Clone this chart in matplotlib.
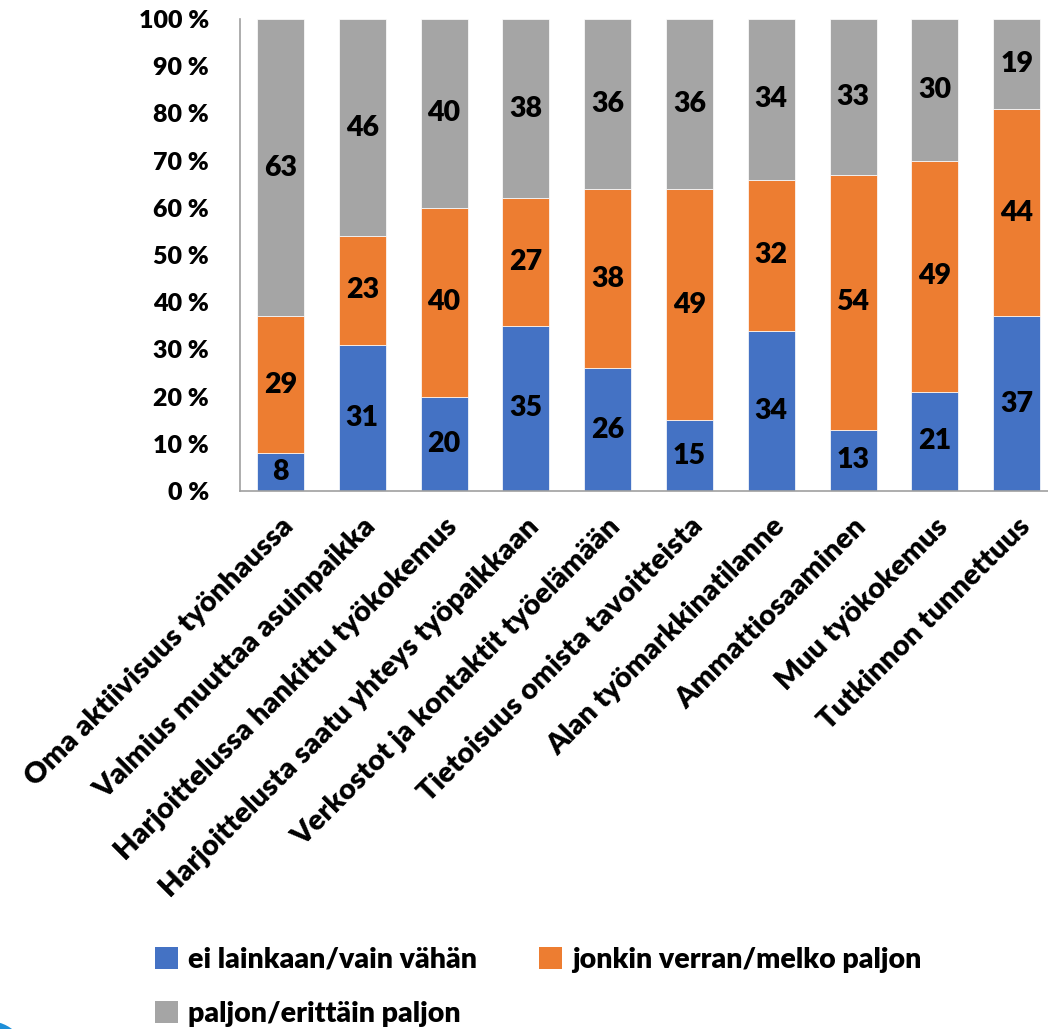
import matplotlib
matplotlib.use("Agg")
import matplotlib.pyplot as plt
from matplotlib.patches import Patch, Circle
from matplotlib.font_manager import FontProperties
import numpy as np

categories = ["Oma aktiivisuus työnhaussa", "Valmius muuttaa asuinpaikka",
              "Harjoittelussa hankittu työkokemus", "Harjoittelusta saatu yhteys työpaikkaan",
              "Verkostot ja kontaktit työelämään", "Tietoisuus omista tavoitteista",
              "Alan työmarkkinatilanne", "Ammattiosaaminen", "Muu työkokemus",
              "Tutkinnon tunnettuus"]
series_names = ["ei lainkaan/vain vähän", "jonkin verran/melko paljon", "paljon/erittäin paljon"]
low = [8, 31, 20, 35, 26, 15, 34, 13, 21, 37]
mid = [29, 23, 40, 27, 38, 49, 32, 54, 49, 44]
high = [63, 46, 40, 38, 36, 36, 34, 33, 30, 19]
yticks = [0, 10, 20, 30, 40, 50, 60, 70, 80, 90, 100]
colors = ["#4472C4", "#ED7D31", "#A5A5A5"]

W = 'heavy'
plt.rcParams['font.family'] = ['Lato', 'DejaVu Sans']
plt.rcParams['font.weight'] = W

fig = plt.figure(figsize=(10.48, 10.29), dpi=100)
ax = fig.add_axes([0.2286, 0.5228, 0.7805, 0.4587])

x = np.arange(len(categories))
bottom = np.zeros(len(categories))
for vals, c in zip([low, mid, high], colors):
    vals = np.array(vals)
    ax.bar(x, vals, width=0.575, bottom=bottom, color=c, edgecolor='white', linewidth=0.5)
    for xi, b, v in zip(x, bottom, vals):
        ax.text(xi, b + v / 2, f"{v}", ha='center', va='center', fontsize=20.5,
                fontweight=W, color='black')
    bottom += vals

ax.set_xlim(-0.5, len(categories) - 0.5)
ax.set_ylim(0, 100)
ax.set_yticks(yticks)
ax.set_yticklabels([f"{t} %" for t in yticks], fontsize=18, fontweight=W)
ax.set_xticks(x)
ax.set_xticklabels(categories, rotation=45, ha='right', va='top', rotation_mode='anchor',
                   fontsize=21, fontweight=W)
ax.tick_params(axis='both', length=0)
ax.tick_params(axis='y', pad=22)
ax.tick_params(axis='x', pad=16)
for s in ['top', 'right']:
    ax.spines[s].set_visible(False)
for s in ['left', 'bottom']:
    ax.spines[s].set_color('#A0A0A0')
    ax.spines[s].set_linewidth(1.2)

order = [0, 2, 1]
handles = [Patch(facecolor=colors[i]) for i in order]
labels = [series_names[i] for i in order]
fig.legend(handles, labels, loc='upper left', bbox_to_anchor=(0.148, 0.080),
           ncol=2, frameon=False, handlelength=0.8, handleheight=0.8,
           handletextpad=0.35, columnspacing=2.2, labelspacing=1.0,
           borderaxespad=0, borderpad=0,
           prop=FontProperties(family=['Lato', 'DejaVu Sans'], weight=W, size=20.5))

fig.patches.append(Circle((-12, -32), 40, transform=None, facecolor="#1E8FD8",
                          edgecolor='none', figure=fig))

fig.savefig("out.png", dpi=100)
